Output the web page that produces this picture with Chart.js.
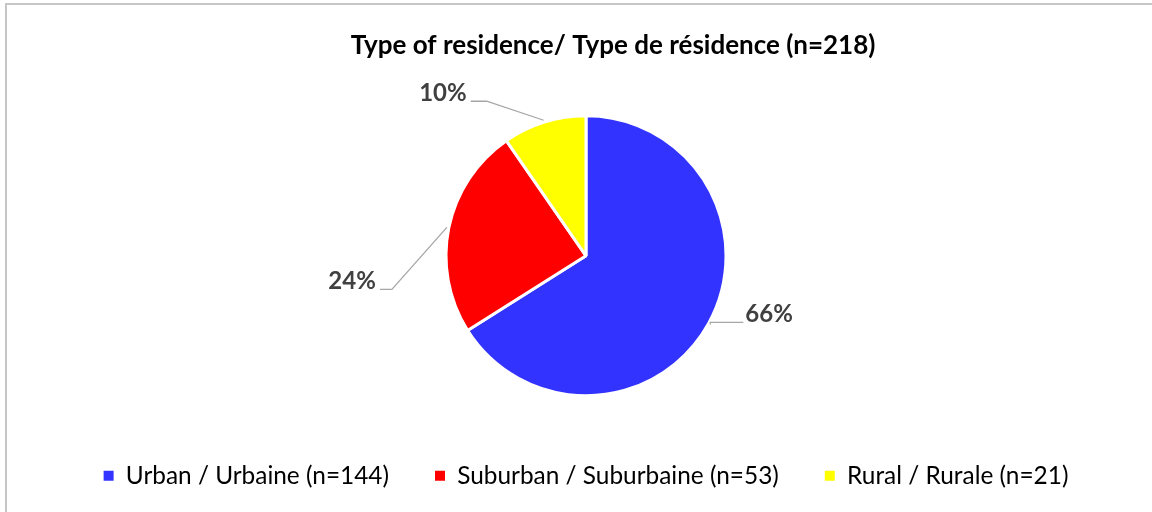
<!DOCTYPE html>
<html>
<head>
<meta charset="utf-8">
<script src="https://cdn.jsdelivr.net/npm/chart.js@4.4.0/dist/chart.umd.min.js"></script>
<style>
  html, body { margin: 0; padding: 0; background: #fff; overflow: hidden; }
  #frame { position: absolute; left: 5px; top: 3px; width: 1170px; height: 530px; border: 2px solid #c6c6c6; }
  #wrap { position: absolute; left: 0; top: 0; width: 1152px; height: 512px; }
</style>
</head>
<body>
<div id="frame"></div>
<div id="wrap"><canvas id="residenceChart"></canvas></div>
<script>
const chartTitle = 'Type of residence/ Type de résidence (n=218)';
const categories = ['Urban / Urbaine (n=144)', 'Suburban / Suburbaine (n=53)', 'Rural / Rurale (n=21)'];
const counts = [144, 53, 21];
const sliceColors = ['#3333FF', '#FF0000', '#FFFF00'];

document.addEventListener('DOMContentLoaded', function() {
    const el = document.getElementById('residenceChart');

    // title drawn by hand so it can sit right of the pie centre, like the original
    const titlePlugin = {
        id: 'sideTitle',
        afterDraw(chart) {
            const ctx = chart.ctx;
            ctx.save();
            ctx.font = 'bold 26px Lato';
            ctx.fillStyle = '#000';
            ctx.textAlign = 'center';
            ctx.textBaseline = 'middle';
            ctx.fillText(chartTitle, 613, 46);
            ctx.restore();
        }
    };

    // percentage labels with leader lines; offsets are per slice, relative to the arc edge
    const leaders = [
        { dx: 0, dy: -2, run: 33, side: 'right' },
        { dx: -55, dy: 62, run: -12, side: 'left' },
        { dx: -57, dy: -19, run: -16, side: 'left' }
    ];
    const labelPlugin = {
        id: 'pctLabels',
        afterDatasetsDraw(chart) {
            const ctx = chart.ctx;
            const data = chart.data.datasets[0].data;
            const total = data.reduce((a, b) => a + b, 0);
            const arcs = chart.getDatasetMeta(0).data;
            ctx.save();
            arcs.forEach((arc, i) => {
                const p = arc.getProps(['x', 'y', 'startAngle', 'endAngle', 'outerRadius'], true);
                const mid = (p.startAngle + p.endAngle) / 2;
                const ax = p.x + Math.cos(mid) * (p.outerRadius + 2);
                const ay = p.y + Math.sin(mid) * (p.outerRadius + 2);
                const l = leaders[i];
                const ex = ax + l.dx, ey = ay + l.dy;
                const tx = ex + l.run;
                ctx.strokeStyle = '#a6a6a6';
                ctx.lineWidth = 1.3;
                ctx.beginPath();
                ctx.moveTo(ax, ay);
                ctx.lineTo(ex, ey);
                ctx.lineTo(tx, ey);
                ctx.stroke();
                ctx.font = 'bold 24px Lato';
                ctx.fillStyle = '#404040';
                ctx.textBaseline = 'alphabetic';
                const txt = Math.round(data[i] / total * 100) + '%';
                if (l.side === 'right') {
                    ctx.textAlign = 'left';
                    ctx.fillText(txt, tx + 2, ey);
                } else {
                    ctx.textAlign = 'right';
                    ctx.fillText(txt, tx - 4, ey);
                }
            });
            ctx.restore();
        }
    };

    new Chart(el, {
        type: 'pie',
        data: {
            labels: categories,
            datasets: [{
                data: counts,
                backgroundColor: sliceColors,
                borderColor: '#ffffff',
                borderWidth: 3,
                radius: 140
            }]
        },
        options: {
            responsive: true,
            maintainAspectRatio: false,
            animation: false,
            layout: { padding: { left: 20, right: 0, top: 94, bottom: 14 } },
            plugins: {
                tooltip: { enabled: false },
                title: { display: false },
                legend: {
                    position: 'bottom',
                    labels: {
                        boxWidth: 10,
                        boxHeight: 10,
                        padding: 46,
                        color: '#404040',
                        font: { family: 'Lato', size: 24.4 },
                        generateLabels(chart) {
                            return chart.data.labels.map((lab, i) => ({
                                text: lab,
                                fillStyle: sliceColors[i],
                                strokeStyle: sliceColors[i],
                                lineWidth: 0,
                                index: i
                            }));
                        }
                    }
                }
            }
        },
        plugins: [titlePlugin, labelPlugin]
    });
});
</script>
</body>
</html>
